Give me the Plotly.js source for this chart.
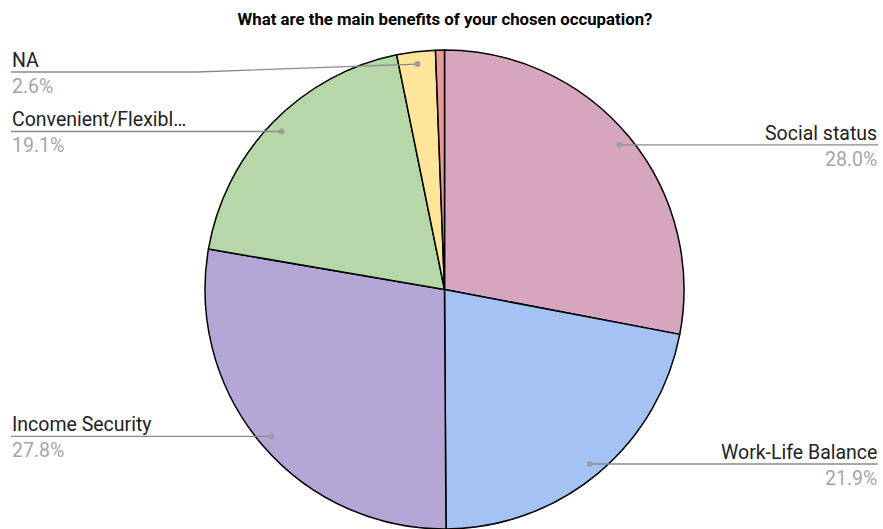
<!DOCTYPE html>
<html>
<head>
<meta charset="utf-8">
<script src="https://cdn.plot.ly/plotly-3.0.1.min.js"></script>
<style>html,body{margin:0;padding:0;background:#fff}#chart{width:883px;height:529px}</style>
</head>
<body>
<div id="chart"></div>
<script>
const categories = ["Social status", "Work-Life Balance", "Income Security", "Convenient/Flexible", "NA", "Other"];
const displayLabels = ["Social status", "Work-Life Balance", "Income Security", "Convenient/Flexibl…", "NA", ""];
const values = [28.0, 21.9, 27.8, 19.1, 2.6, 0.6];
const colors = ["#d5a6bd", "#a4c2f4", "#b4a7d6", "#b6d7a8", "#ffe599", "#ea9999"];

const W = 883, H = 529, T = 50;
const PH = H - T;
const cx = 444.5, cy = T + PH / 2, R = PH / 2;
const dotR = R * 0.948;

function px2x(p) { return p / W; }
function py2y(p) { return (H - p) / PH; }

const total = values.reduce((a, b) => a + b, 0);
const shapes = [];
const annotations = [];
let cum = 0;
values.forEach((v, i) => {
  const frac = v / total;
  const mid = (cum + frac / 2) * 2 * Math.PI;
  cum += frac;
  if (!displayLabels[i]) return;
  const dx = cx + dotR * Math.sin(mid);
  const dy = cy - dotR * Math.cos(mid);
  const left = Math.sin(mid) < 0;
  const lineY = Math.max(dy, 72);
  const endX = left ? 11 : 878;
  const bendX = left ? Math.min(197, dx) : Math.max(686, dx);
  shapes.push({
    type: "path", xref: "paper", yref: "paper",
    path: `M ${px2x(endX)},${py2y(lineY)} L ${px2x(bendX)},${py2y(lineY)} L ${px2x(dx)},${py2y(dy)}`,
    line: { color: "#8a8a8a", width: 1.3 }
  });
  shapes.push({
    type: "circle", xref: "paper", yref: "paper",
    x0: px2x(dx - 3), x1: px2x(dx + 3), y0: py2y(dy + 3), y1: py2y(dy - 3),
    fillcolor: "#9e9e9e", line: { width: 0 }
  });
  annotations.push({
    xref: "paper", yref: "paper", x: px2x(endX), y: py2y(lineY + 1),
    xanchor: left ? "left" : "right", yanchor: "bottom",
    text: displayLabels[i], showarrow: false,
    font: { family: "Roboto", size: 19.5, color: "#222222" }, borderpad: 0
  });
  annotations.push({
    xref: "paper", yref: "paper", x: px2x(endX), y: py2y(lineY + 2),
    xanchor: left ? "left" : "right", yanchor: "top",
    text: v.toFixed(1) + "%", showarrow: false,
    font: { family: "Roboto", size: 19.5, color: "#a6a6a6" }, borderpad: 0
  });
});

const data = [{
  type: "pie",
  labels: categories,
  values: values,
  sort: false,
  direction: "clockwise",
  rotation: 0,
  textinfo: "none",
  hoverinfo: "label+percent",
  marker: { colors: colors, line: { color: "#000000", width: 1.5 } },
  domain: { x: [(cx - R) / W, (cx + R) / W], y: [0, 1] },
  showlegend: false
}];

const layout = {
  width: W, height: H,
  margin: { l: 0, r: 0, t: T, b: 0 },
  paper_bgcolor: "#ffffff",
  title: {
    text: "<b>What are the main benefits of your chosen occupation?</b>",
    x: 445 / W, xanchor: "center", xref: "paper",
    y: (H - 19) / H, yanchor: "middle", yref: "container",
    font: { family: "Roboto", size: 16.8, color: "#000000" }
  },
  shapes: shapes,
  annotations: annotations,
  showlegend: false
};

Plotly.newPlot("chart", data, layout, { displayModeBar: false, staticPlot: true });
</script>
</body>
</html>
